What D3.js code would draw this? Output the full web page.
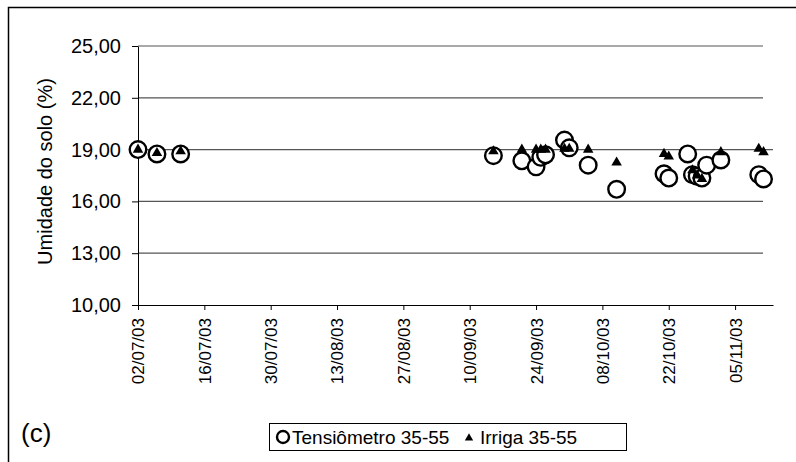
<!DOCTYPE html>
<html lang="pt">
<head>
<meta charset="utf-8">
<title>Umidade do solo (c)</title>
<script src="https://cdnjs.cloudflare.com/ajax/libs/d3/7.8.5/d3.min.js"></script>
<style>
  body { margin: 0; background: #fff; }
  text { font-family: "Liberation Sans", Arial, sans-serif; fill: #000; }
  .grid { stroke: #555; stroke-width: 1.2; }
  .tens { fill: #fff; stroke: #000; stroke-width: 2.4; }
  .irriga { fill: #000; }
</style>
</head>
<body>
<script>
// date axis ticks (every 14 days)
var xTickLabels = ["02/07/03", "16/07/03", "30/07/03", "13/08/03", "27/08/03",
                   "10/09/03", "24/09/03", "08/10/03", "22/10/03", "05/11/03"];
var yTicks = [10, 13, 16, 19, 22, 25];
var refLevel = 19; // the 19,00 line runs the full axis length

// Tensiômetro 35-55
var tensDates = ["02/07/03", "06/07/03", "11/07/03", "15/09/03", "21/09/03", "24/09/03",
                 "25/09/03", "26/09/03", "30/09/03", "01/10/03", "05/10/03", "11/10/03",
                 "21/10/03", "22/10/03", "26/10/03", "27/10/03", "28/10/03", "29/10/03",
                 "30/10/03", "02/11/03", "10/11/03", "11/11/03"];
var tensValues = [19.0, 18.75, 18.75, 18.65, 18.35, 18.0,
                  18.55, 18.7, 19.55, 19.1, 18.1, 16.7,
                  17.6, 17.35, 18.75, 17.55, 17.45, 17.35,
                  18.1, 18.4, 17.55, 17.3];

// Irriga 35-55
var irrigaDates = ["02/07/03", "06/07/03", "11/07/03", "15/09/03", "21/09/03", "24/09/03",
                   "25/09/03", "26/09/03", "30/09/03", "01/10/03", "05/10/03", "11/10/03",
                   "21/10/03", "22/10/03", "27/10/03", "28/10/03", "29/10/03", "02/11/03",
                   "10/11/03", "11/11/03"];
var irrigaValues = [19.0, 18.8, 18.9, 18.9, 19.0, 19.0,
                    19.0, 19.0, 19.05, 19.05, 19.0, 18.25,
                    18.75, 18.6, 17.8, 17.5, 17.3, 18.85,
                    19.05, 18.85];

var W = 796, H = 462;
var plotL = 138, plotR = 773, gridR = 763, plotT = 46, plotB = 305;

var parse = d3.timeParse("%d/%m/%y");
var fmtY = function(v) { return d3.format(".2f")(v).replace(".", ","); };

var x = d3.scaleTime()
    .domain([parse("02/07/03"), d3.timeDay.offset(parse("02/07/03"), 134)])
    .range([plotL, plotR]);
var y = d3.scaleLinear().domain([10, 25]).range([plotB, plotT]);

var svg = d3.select("body").append("svg")
    .attr("width", W)
    .attr("height", H);

// chart frame
svg.append("rect")
    .attr("x", 8.5).attr("y", 7.5)
    .attr("width", 800).attr("height", 500)
    .attr("fill", "none").attr("stroke", "#000").attr("stroke-width", 1.5);

// horizontal gridlines
svg.append("g").selectAll("line")
    .data(yTicks.slice(1))
    .join("line")
    .attr("class", "grid")
    .attr("x1", plotL)
    .attr("x2", function(d) { return d === refLevel ? plotR : gridR; })
    .attr("y1", function(d) { return y(d); })
    .attr("y2", function(d) { return y(d); });

// Y axis
var yAxis = svg.append("g")
    .attr("transform", "translate(" + plotL + ",0)")
    .call(d3.axisLeft(y).tickValues(yTicks).tickFormat(fmtY).tickSize(6).tickSizeOuter(0));
yAxis.selectAll("text").style("font-size", "20px").attr("x", -17);

// X axis
var xAxis = svg.append("g")
    .attr("transform", "translate(0," + plotB + ")")
    .call(d3.axisBottom(x)
        .tickValues(xTickLabels.map(parse))
        .tickFormat(d3.timeFormat("%d/%m/%y"))
        .tickSize(5).tickSizeOuter(0));
xAxis.selectAll("text")
    .style("font-size", "17px")
    .attr("transform", "rotate(-90)")
    .attr("text-anchor", "end")
    .attr("x", -13).attr("y", 0).attr("dy", "0.35em");
svg.selectAll(".domain").attr("stroke", "#000");
svg.selectAll(".tick line").attr("stroke", "#000");

// Y title
svg.append("text")
    .attr("transform", "translate(52," + ((plotT + plotB) / 2 - 4) + ") rotate(-90)")
    .attr("text-anchor", "middle")
    .style("font-size", "20px")
    .text("Umidade do solo (%)");

// series
var tens = tensDates.map(function(d, i) { return { date: parse(d), v: tensValues[i] }; });
var irriga = irrigaDates.map(function(d, i) { return { date: parse(d), v: irrigaValues[i] }; });

svg.append("g").selectAll("circle")
    .data(tens)
    .join("circle")
    .attr("class", "tens")
    .attr("r", 8.3)
    .attr("cx", function(d) { return x(d.date); })
    .attr("cy", function(d) { return y(d.v); });

var tri = d3.symbol().type(d3.symbolTriangle).size(48);
svg.append("g").selectAll("path")
    .data(irriga)
    .join("path")
    .attr("class", "irriga")
    .attr("d", tri)
    .attr("transform", function(d) { return "translate(" + x(d.date) + "," + y(d.v) + ")"; });

// panel label
svg.append("text")
    .attr("x", 21).attr("y", 442)
    .style("font-size", "26px")
    .text("(c)");

// legend
var lg = svg.append("g");
lg.append("rect")
    .attr("x", 269.5).attr("y", 423.5)
    .attr("width", 357).attr("height", 27)
    .attr("fill", "#fff").attr("stroke", "#000").attr("stroke-width", 1);
lg.append("circle")
    .attr("class", "tens").attr("r", 6).attr("stroke-width", 2)
    .attr("cx", 283).attr("cy", 437);
lg.append("text").attr("x", 292).attr("y", 444).style("font-size", "19px").text("Tensiômetro 35-55");
lg.append("path").attr("class", "irriga").attr("d", d3.symbol().type(d3.symbolTriangle).size(30))
    .attr("transform", "translate(469,438)");
lg.append("text").attr("x", 480).attr("y", 444).style("font-size", "19px").text("Irriga 35-55");
</script>
</body>
</html>
